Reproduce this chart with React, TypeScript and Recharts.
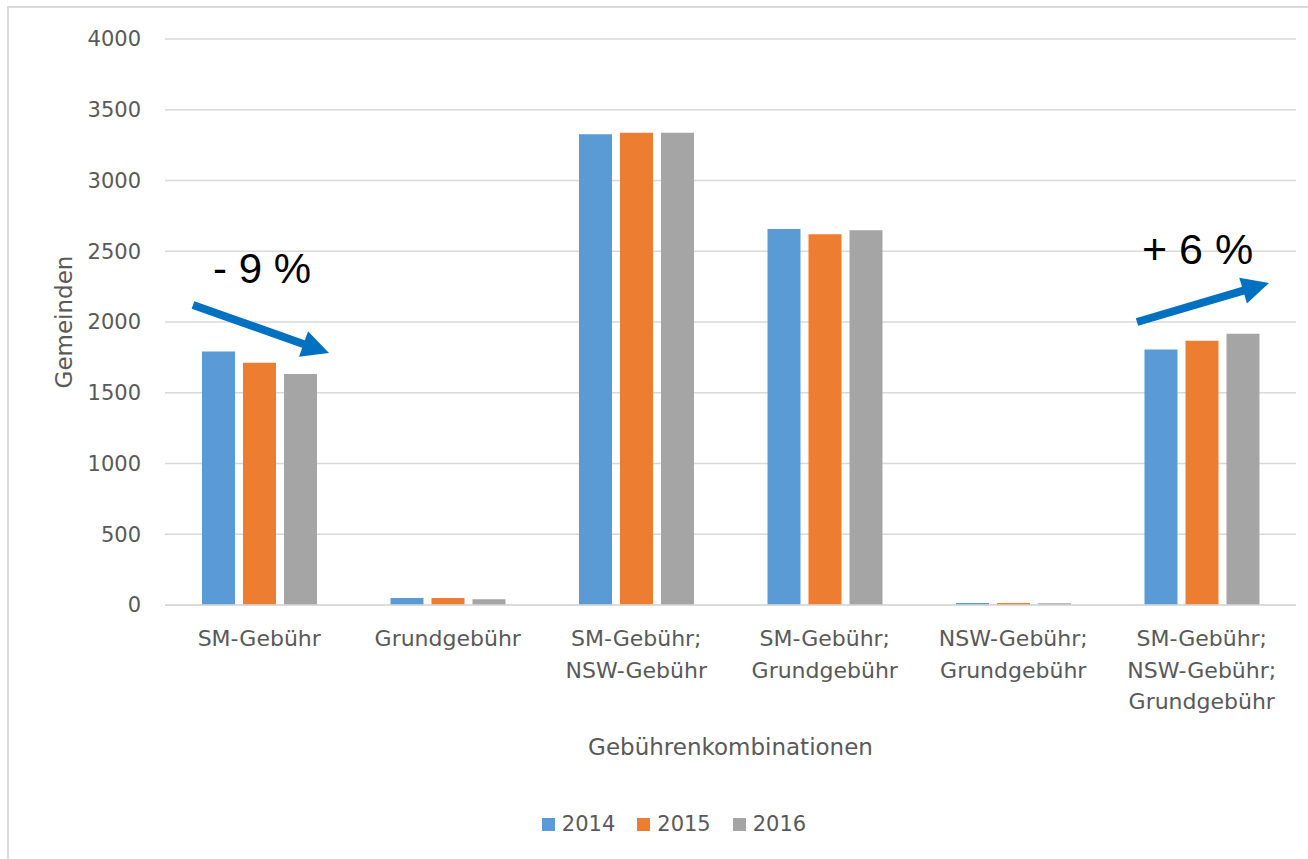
import React from 'react';
import { BarChart, Bar, XAxis, YAxis, CartesianGrid, Legend } from 'recharts';

const categories = [
  'SM-Gebühr',
  'Grundgebühr',
  'SM-Gebühr;\nNSW-Gebühr',
  'SM-Gebühr;\nGrundgebühr',
  'NSW-Gebühr;\nGrundgebühr',
  'SM-Gebühr;\nNSW-Gebühr;\nGrundgebühr',
];
const values2014 = [1792, 50, 3326, 2657, 15, 1805];
const values2015 = [1712, 50, 3338, 2620, 15, 1868];
const values2016 = [1632, 40, 3338, 2648, 13, 1917];
const yTicks = [0, 500, 1000, 1500, 2000, 2500, 3000, 3500, 4000];
const seriesNames = ['2014', '2015', '2016'];
const seriesColors = ['#5B9BD5', '#ED7D31', '#A5A5A5'];

const data = categories.map((c, i) => ({
  name: c,
  '2014': values2014[i],
  '2015': values2015[i],
  '2016': values2016[i],
}));

const FONT = '"DejaVu Sans", sans-serif';
const TXT = '#595959';

const XTick = (props: any) => {
  const { x, y, payload } = props;
  const lines = String(payload.value).split('\n');
  return (
    <text x={x} y={y + 33} textAnchor="middle" fill={TXT} fontSize={22} fontFamily={FONT}>
      {lines.map((l: string, i: number) => (
        <tspan key={i} x={x} dy={i === 0 ? 0 : 31.5}>
          {l}
        </tspan>
      ))}
    </text>
  );
};

const XTitle = (props: any) => {
  const vb = props.viewBox || {};
  return (
    <text x={vb.x + vb.width / 2} y={755} textAnchor="middle" fill={TXT} fontSize={23} fontFamily={FONT}>
      Gebührenkombinationen
    </text>
  );
};

const YTitle = (props: any) => {
  const vb = props.viewBox || {};
  const cy = vb.y + vb.height / 2;
  return (
    <text x={72} y={cy} transform={`rotate(-90, 72, ${cy})`} textAnchor="middle" fill={TXT} fontSize={23} fontFamily={FONT}>
      Gemeinden
    </text>
  );
};

const LegendContent = () => (
  <div
    style={{
      height: 60,
      display: 'flex',
      justifyContent: 'center',
      alignItems: 'flex-start',
      paddingTop: 14,
      paddingLeft: 52,
      boxSizing: 'border-box',
      fontFamily: FONT,
      fontSize: 21,
      color: TXT,
    }}
  >
    {seriesNames.map((n, i) => (
      <div key={n} style={{ display: 'flex', alignItems: 'center', marginRight: i < 2 ? 22 : 0, lineHeight: '22px' }}>
        <span style={{ display: 'inline-block', width: 13, height: 13, background: seriesColors[i], marginRight: 7 }} />
        <span>{n}</span>
      </div>
    ))}
  </div>
);

function arrowParts(x1: number, y1: number, x2: number, y2: number) {
  const dx = x2 - x1;
  const dy = y2 - y1;
  const len = Math.sqrt(dx * dx + dy * dy);
  const ux = dx / len;
  const uy = dy / len;
  const nx = -uy;
  const ny = ux;
  const headLen = 27;
  const half = 13.5;
  const bx = x2 - ux * headLen;
  const by = y2 - uy * headLen;
  const pts = `${x2},${y2} ${bx + nx * half},${by + ny * half} ${bx - nx * half},${by - ny * half}`;
  return { bx: bx + ux * 2, by: by + uy * 2, pts };
}

const Arrow = ({ x1, y1, x2, y2 }: { x1: number; y1: number; x2: number; y2: number }) => {
  const a = arrowParts(x1, y1, x2, y2);
  return (
    <g>
      <line x1={x1} y1={y1} x2={a.bx} y2={a.by} stroke="#0070C0" strokeWidth={8} />
      <polygon points={a.pts} fill="#0070C0" />
    </g>
  );
};

export default function App() {
  return (
    <div style={{ position: 'absolute', left: 0, top: 0, width: 1308, height: 859, background: '#fff', overflow: 'hidden' }}>
      <div
        style={{
          position: 'absolute',
          left: 7,
          top: 6,
          width: 1310,
          height: 900,
          borderTop: '2px solid #D9D9D9',
          borderLeft: '2px solid #D9D9D9',
        }}
      />
      <div style={{ position: 'absolute', left: 0, top: 0 }}>
        <BarChart
          width={1308}
          height={859}
          data={data}
          margin={{ top: 39, right: 12, bottom: 0, left: 0 }}
          barSize={33}
          barGap={8}
        >
          <CartesianGrid vertical={false} stroke="#D9D9D9" strokeWidth={1.5} />
          <XAxis
            dataKey="name"
            height={194}
            interval={0}
            tickLine={false}
            axisLine={{ stroke: '#D9D9D9', strokeWidth: 1.5 }}
            tick={<XTick />}
            label={<XTitle />}
          />
          <YAxis
            width={165}
            domain={[0, 4000]}
            ticks={yTicks}
            interval={0}
            axisLine={false}
            tickLine={false}
            tickSize={0}
            tickMargin={24}
            tick={{ fill: TXT, fontSize: 21, fontFamily: FONT }}
            label={<YTitle />}
          />
          <Legend verticalAlign="bottom" content={<LegendContent />} />
          {seriesNames.map((n, i) => (
            <Bar key={n} dataKey={n} fill={seriesColors[i]} isAnimationActive={false} />
          ))}
        </BarChart>
      </div>
      <svg width={1308} height={859} style={{ position: 'absolute', left: 0, top: 0, pointerEvents: 'none' }}>
        <Arrow x1={193} y1={305} x2={329} y2={353} />
        <Arrow x1={1137} y1={322} x2={1269} y2={283} />
        <text x={213} y={283} fontSize={42} fontFamily='"Liberation Sans", Arial, sans-serif' fill="#000">
          - 9 %
        </text>
        <text x={1142} y={264} fontSize={43} fontFamily='"Liberation Sans", Arial, sans-serif' fill="#000">
          + 6 %
        </text>
      </svg>
    </div>
  );
}
